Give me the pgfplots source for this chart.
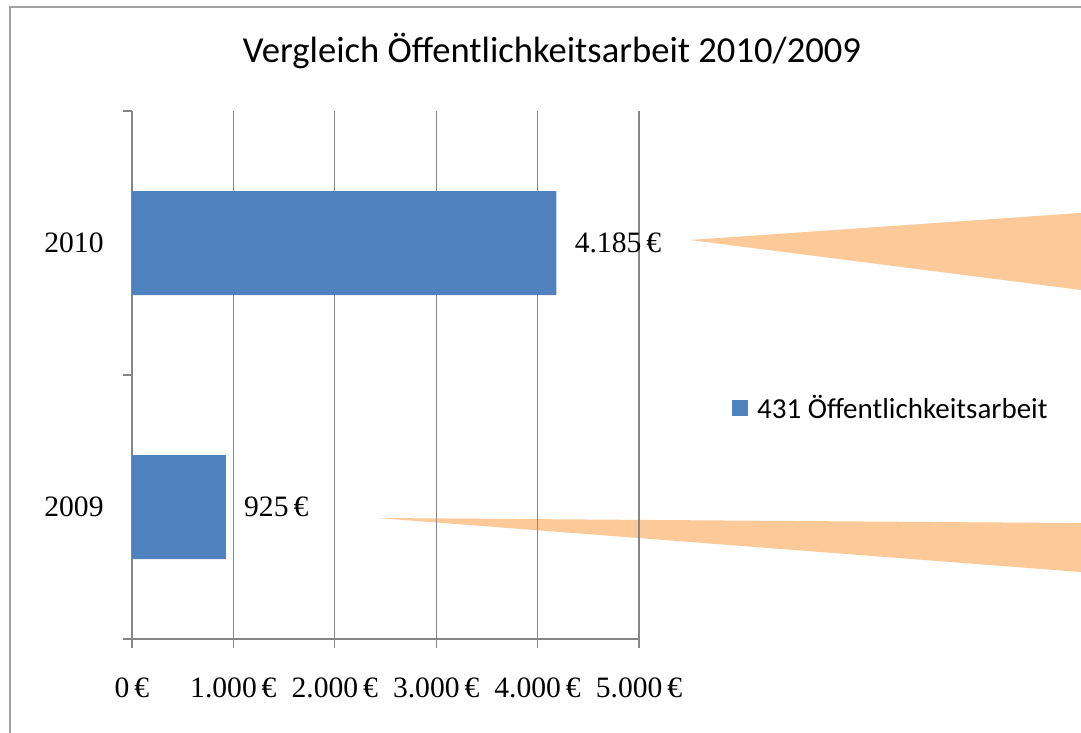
\documentclass[border=0pt]{standalone}
\usepackage{pgfplots}
\pgfplotsset{compat=1.18}
\usepackage{fontspec}
\setmainfont{Liberation Serif}
\newfontfamily\calibri{Carlito}
\definecolor{barblue}{RGB}{79,129,189}
\definecolor{callout}{RGB}{252,201,152}
\definecolor{gridgray}{RGB}{134,134,134}
\definecolor{framegray}{RGB}{160,160,160}
\begin{document}
\begin{tikzpicture}[x=0.5pt,y=-0.5pt]
\path[use as bounding box] (0,0) rectangle (1081,733);
\clip (0,0) rectangle (1081,733);
\fill[white] (0,0) rectangle (1081,733);
\fill[callout] (690,240) -- (1100,211.6) -- (1100,292.4) -- cycle;
\fill[callout] (378,518) -- (1100,523.2) -- (1100,573.5) -- cycle;
\draw[framegray, line width=1pt] (10,740) -- (10,7) -- (1090,7);
\node[font=\calibri\fontsize{18.3pt}{22pt}\selectfont, anchor=base, inner sep=0pt] at (552,63) {Vergleich Öffentlichkeitsarbeit 2010/2009};
\begin{axis}[
  at={(66pt,-319.5pt)}, anchor=south west,
  scale only axis, width=253.5pt, height=264pt,
  xbar, bar width=52pt, bar shift=0pt,
  xmin=0, xmax=5000, ymin=-0.5, ymax=1.5,
  axis x line*=bottom, axis y line*=left,
  axis line style={draw=gridgray, line width=0.65pt, -},
  tick style={draw=gridgray, line width=0.65pt},
  tick align=outside, major tick length=4.5pt,
  xmajorgrids, grid style={draw=gridgray, line width=0.65pt},
  xtick={0,1000,2000,3000,4000,5000},
  xticklabels={0\,€, 1.000\,€, 2.000\,€, 3.000\,€, 4.000\,€, 5.000\,€},
  ytick={-0.5,0.5,1.5}, yticklabels={,,},
  extra y ticks={0,1}, extra y tick labels={2009,2010},
  extra y tick style={major tick length=0pt, yticklabel style={inner sep=0pt, xshift=-14pt}},
  tick label style={font=\fontsize{14.8pt}{17pt}\selectfont},
  xticklabel style={inner sep=0pt, anchor=north, yshift=-14.5pt},
  point meta=explicit symbolic,
  nodes near coords,
  every node near coord/.append style={font=\fontsize{14.8pt}{17pt}\selectfont, anchor=west, inner sep=0pt, xshift=9pt, text=black},
  legend style={at={(axis description cs:1.183,0.4375)}, anchor=west, draw=none, fill=none, inner sep=0pt,
    font=\calibri\fontsize{14.5pt}{17pt}\selectfont, nodes={inner sep=0pt}, column sep=4.5pt},
  legend image code/.code={\fill[barblue] (0pt,-4pt) rectangle (8pt,4pt);},
]
\addplot[fill=barblue, draw=none] coordinates {(925,0) [925\,€] (4185,1) [4.185\,€]};
\addlegendentry{431 Öffentlichkeitsarbeit}
\end{axis}
\end{tikzpicture}
\end{document}
